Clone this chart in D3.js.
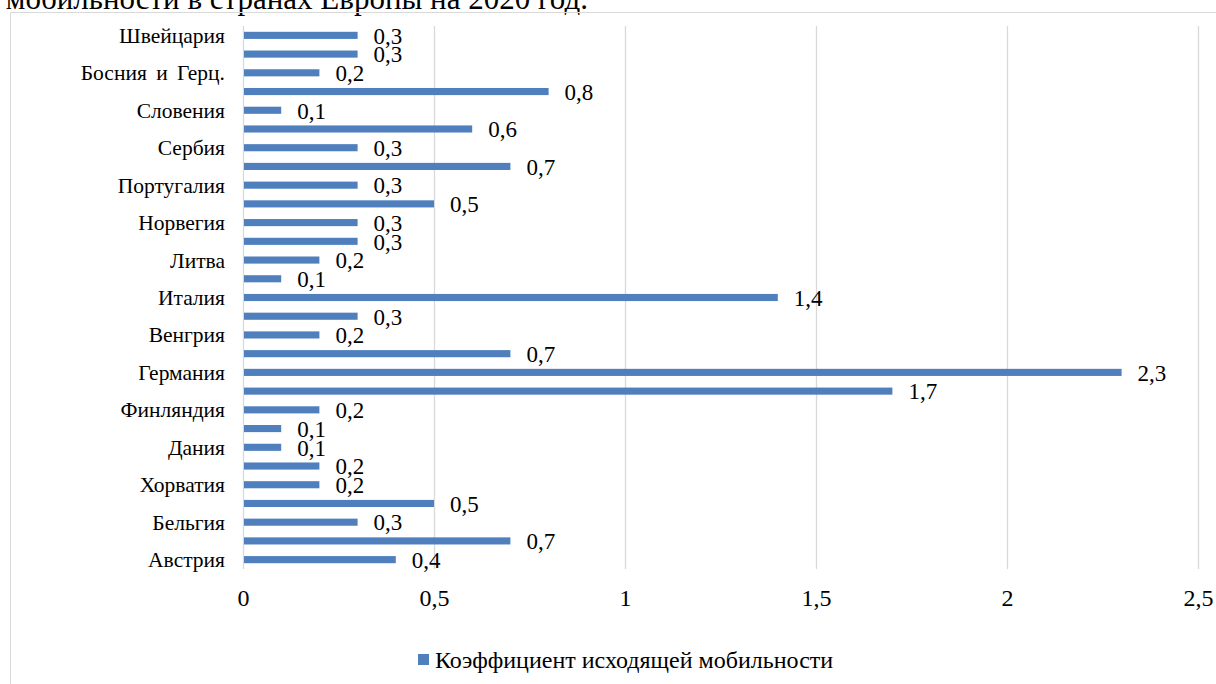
<!DOCTYPE html>
<html>
<head>
<meta charset="utf-8">
<script src="https://cdn.jsdelivr.net/npm/d3@7"></script>
<style>
  body { margin: 0; background: #fff; }
  svg { display: block; font-family: "Liberation Serif", "Times New Roman", serif; }
</style>
</head>
<body>
<svg></svg>
<script>
// bottom to top, as in the picture
const countries = [
  "Австрия", "Беларусь", "Бельгия", "Болгария", "Хорватия", "Чехия",
  "Дания", "Эстония", "Финляндия", "Франция", "Германия", "Греция",
  "Венгрия", "Ирландия", "Италия", "Латвия", "Литва", "Нидерланды",
  "Норвегия", "Польша", "Португалия", "Румыния", "Сербия", "Словакия",
  "Словения", "Испания", "Босния и Герц.", "Швеция", "Швейцария"
];
const outMobility = [
  0.4, 0.7, 0.3, 0.5, 0.2, 0.2,
  0.1, 0.1, 0.2, 1.7, 2.3, 0.7,
  0.2, 0.3, 1.4, 0.1, 0.2, 0.3,
  0.3, 0.5, 0.3, 0.7, 0.3, 0.6,
  0.1, 0.8, 0.2, 0.3, 0.3
];
const xTicks = [0, 0.5, 1, 1.5, 2, 2.5];
const seriesName = "Коэффициент исходящей мобильности";
const titleTail = "мобильности в странах Европы на 2020 год.";

const width = 1216;
const height = 684;
const barColor = "#4f80bd";
const gridColor = "#d9d9d9";

const svg = d3.select("svg").attr("width", width).attr("height", height);

const comma = function(v) {
  return String(v).replace(".", ",");
};

// cut-off title above the chart frame
svg.append("text")
  .attr("x", 588)
  .attr("y", 9)
  .attr("text-anchor", "end")
  .style("font-size", "31px")
  .text(titleTail);

// chart frame (only top and left edges are visible)
svg.append("path")
  .attr("d", "M10.5," + height + "V12.5H" + width)
  .attr("fill", "none")
  .attr("stroke", gridColor)
  .attr("stroke-width", 1);

const x = d3.scaleLinear().domain([0, 2.5]).range([243, 1198]);

const y = d3.scaleBand()
  .domain(d3.range(countries.length).reverse())
  .range([26, 569])
  .paddingInner(0.62)
  .paddingOuter(0.31);

// vertical grid
svg.append("g")
  .selectAll("line")
  .data(xTicks)
  .enter()
  .append("line")
  .attr("x1", d => x(d) + 0.5)
  .attr("x2", d => x(d) + 0.5)
  .attr("y1", 26)
  .attr("y2", 569)
  .attr("stroke", gridColor)
  .attr("stroke-width", 1.3);

// x axis labels
const xAxis = svg.append("g")
  .attr("transform", "translate(0, 589)")
  .call(d3.axisBottom(x).tickValues(xTicks).tickSize(0).tickPadding(0).tickFormat(comma));
xAxis.select(".domain").remove();
xAxis.selectAll("text")
  .attr("y", 17)
  .attr("dy", null)
  .attr("fill", "#000")
  .style("font-size", "24px")
  .style("font-family", "Liberation Serif, serif");

// bars
svg.append("g")
  .selectAll("rect")
  .data(outMobility)
  .enter()
  .append("rect")
  .attr("x", x(0) + 1)
  .attr("y", (d, i) => y(i))
  .attr("width", d => x(d) - x(0) - 1)
  .attr("height", y.bandwidth())
  .attr("fill", barColor);

// value labels
svg.append("g")
  .selectAll("text")
  .data(outMobility)
  .enter()
  .append("text")
  .attr("x", d => x(d) + 16)
  .attr("y", (d, i) => y(i) + y.bandwidth() / 2)
  .attr("dy", "0.36em")
  .style("font-size", "23px")
  .text(d => comma(d));

// category labels, every second one fits
svg.append("g")
  .selectAll("text")
  .data(countries.filter((d, i) => i % 2 === 0))
  .enter()
  .append("text")
  .attr("x", 225)
  .attr("y", (d, i) => y(i * 2) + y.bandwidth() / 2)
  .attr("dy", "0.35em")
  .attr("text-anchor", "end")
  .style("font-size", "21.5px")
  .style("word-spacing", "4px")
  .text(d => d);

// legend
const legend = svg.append("g");
legend.append("rect")
  .attr("x", 418)
  .attr("y", 654)
  .attr("width", 11)
  .attr("height", 11)
  .attr("fill", barColor);
legend.append("text")
  .attr("x", 435)
  .attr("y", 668)
  .style("font-size", "24px")
  .text(seriesName);
</script>
</body>
</html>
